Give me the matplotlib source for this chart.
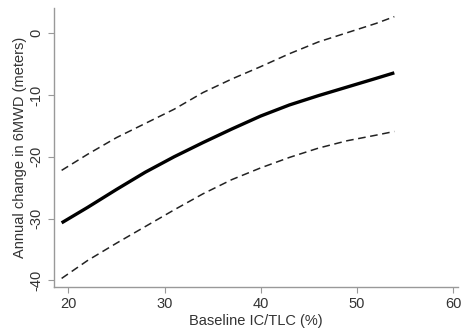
import matplotlib
matplotlib.use("Agg")
import matplotlib.pyplot as plt

x = [19.3, 22, 25, 28, 31, 34, 37, 40, 43, 46, 49, 52, 53.9]
estimate = [-30.7, -28.2, -25.3, -22.5, -20.0, -17.7, -15.5, -13.4, -11.6, -10.1, -8.7, -7.3, -6.4]
upper = [-22.2, -19.6, -16.9, -14.6, -12.3, -9.6, -7.4, -5.4, -3.3, -1.4, 0.1, 1.6, 2.7]
lower = [-39.7, -36.8, -34.0, -31.3, -28.6, -26.0, -23.7, -21.8, -20.1, -18.6, -17.4, -16.5, -15.9]
xticks = [20, 30, 40, 50, 60]
yticks = [-40, -30, -20, -10, 0]

plt.rcParams['font.family'] = ['Liberation Sans', 'DejaVu Sans']
fig = plt.figure(figsize=(4.61, 3.33), dpi=100)
ax = fig.add_axes([0.117, 0.138, 0.876, 0.838])
ax.plot(x, estimate, color='black', lw=2.4, solid_capstyle='butt', solid_joinstyle='round')
ax.plot(x, upper, color='#222222', lw=1.1, dashes=(5, 3))
ax.plot(x, lower, color='#222222', lw=1.1, dashes=(5, 3))
ax.set_xlim(18.5, 60.5)
ax.set_ylim(-41.1, 4.1)
ax.set_xticks(xticks)
ax.set_yticks(yticks)
ax.set_yticklabels([str(v) for v in yticks], rotation=90, va='center')
for s in ['top', 'right']:
    ax.spines[s].set_visible(False)
for s in ['left', 'bottom']:
    ax.spines[s].set_color('#999999')
    ax.spines[s].set_linewidth(1.0)
ax.tick_params(colors='#999999', labelcolor='#333333', labelsize=10.5, length=4, width=0.8)
ax.set_xlabel('Baseline IC/TLC (%)', fontsize=10.5, color='#333333', labelpad=2)
ax.set_ylabel('Annual change in 6MWD (meters)', fontsize=10.5, color='#333333', labelpad=2)
fig.savefig('out.png', dpi=100)
